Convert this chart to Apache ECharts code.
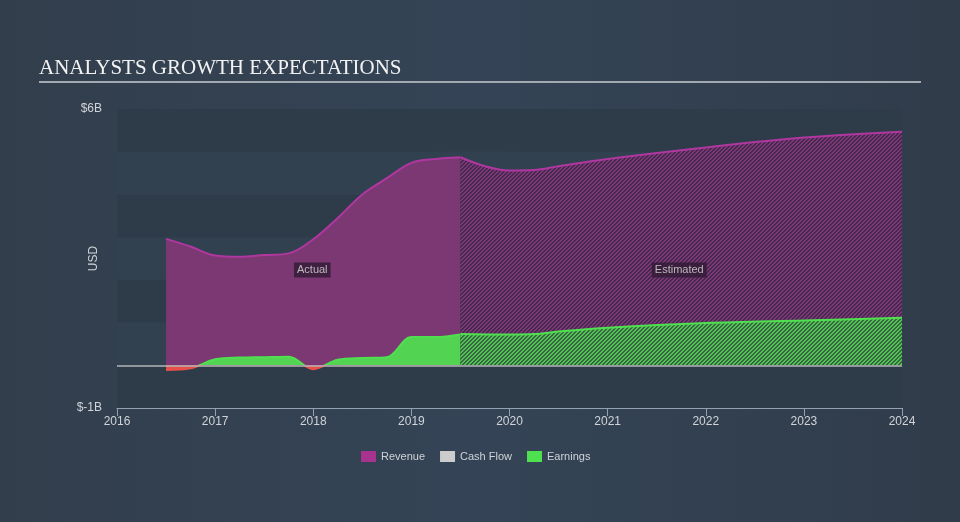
<!DOCTYPE html>
<html>
<head>
<meta charset="utf-8">
<script src="https://cdn.jsdelivr.net/npm/echarts@6/dist/echarts.min.js"></script>
<style>
html,body{margin:0;padding:0;width:960px;height:522px;overflow:hidden;background:#333f4e;}
#chart{width:960px;height:522px;}
</style>
</head>
<body>
<div id="chart"></div>
<script>
// ---- data ----
const yearTicks = [2016, 2017, 2018, 2019, 2020, 2021, 2022, 2023, 2024];
const revenueActualX = [2016.5, 2016.75, 2017.0, 2017.25, 2017.5, 2017.75, 2018.0, 2018.25, 2018.5, 2018.75, 2019.0, 2019.25, 2019.5];
const revenueActual  = [2.96, 2.78, 2.57, 2.54, 2.58, 2.62, 2.95, 3.45, 4.0, 4.38, 4.74, 4.83, 4.87];
const revenueEstX = [2019.5, 2019.75, 2020.0, 2020.25, 2020.5, 2021.0, 2022.0, 2023.0, 2024.0];
const revenueEst  = [4.87, 4.66, 4.56, 4.57, 4.66, 4.83, 5.1, 5.33, 5.47];
const earningsActualX = [2016.5, 2016.75, 2017.0, 2017.25, 2017.5, 2017.75, 2018.0, 2018.25, 2018.5, 2018.75, 2019.0, 2019.25, 2019.5];
const earningsActual  = [-0.11, -0.07, 0.14, 0.18, 0.19, 0.2, -0.09, 0.13, 0.17, 0.19, 0.66, 0.66, 0.72];
const earningsEstX = [2019.5, 2020.0, 2020.25, 2020.5, 2021.0, 2022.0, 2023.0, 2024.0];
const earningsEst  = [0.73, 0.72, 0.73, 0.79, 0.88, 0.99, 1.05, 1.11];
const regionLabels = ['Actual', 'Estimated'];
const regionLabelX = [2017.99, 2021.73];
const regionLabelY = [2.23, 2.23];
const legendNames = ['Revenue', 'Cash Flow', 'Earnings'];

function pairs(xs, ys) { return xs.map((x, i) => [x, ys[i]]); }

function hatch(c1, c2) {
  const s = 4;
  const cv = document.createElement('canvas');
  cv.width = 8; cv.height = 8;
  const ctx = cv.getContext('2d');
  for (let y = 0; y < 8; y++) {
    for (let x = 0; x < 8; x++) {
      ctx.fillStyle = ((x + y) % s) < 2 ? c1 : c2;
      ctx.fillRect(x, y, 1, 1);
    }
  }
  return { image: cv, repeat: 'repeat' };
}

const revColor = '#b0379f';
const revFill = '#7b3873';
const earnColor = '#4fe04f';
const earnFill = '#52d452';
const negColor = '#e8504a';

const chart = echarts.init(document.getElementById('chart'), null, { renderer: 'canvas' });

const option = {
  animation: false,
  backgroundColor: {
    type: 'linear', x: 0, y: 0, x2: 1, y2: 0,
    colorStops: [
      { offset: 0, color: '#323e4c' },
      { offset: 0.5, color: '#344456' },
      { offset: 1, color: '#303c4a' }
    ]
  },
  title: {
    text: 'ANALYSTS GROWTH EXPECTATIONS',
    left: 34, top: 53,
    textStyle: { fontFamily: 'Liberation Serif', fontSize: 21, fontWeight: 'normal', color: '#f2f2f2' }
  },
  graphic: [{
    type: 'line', shape: { x1: 39, y1: 82, x2: 921, y2: 82 },
    style: { stroke: '#a3a9b0', lineWidth: 2 }, silent: true
  }],
  legend: {
    left: 356, top: 446,
    icon: 'rect', itemWidth: 15, itemHeight: 11, itemGap: 15,
    textStyle: { color: '#cfd3d8', fontSize: 11, fontFamily: 'Liberation Sans' },
    data: [
      { name: legendNames[0], itemStyle: { color: '#a8338f' } },
      { name: legendNames[1], itemStyle: { color: '#cccccc' } },
      { name: legendNames[2], itemStyle: { color: '#4fe04f' } }
    ]
  },
  grid: { left: 117, right: 58, top: 109, bottom: 114 },
  xAxis: {
    type: 'value', min: 2016, max: 2024, interval: 1,
    axisLine: { show: true, onZero: false, lineStyle: { color: '#93a1b1', width: 1 } },
    axisTick: { show: true, length: 8, lineStyle: { color: '#93a1b1' } },
    axisLabel: { color: '#d0d4d8', fontSize: 12, margin: 8, fontFamily: 'Liberation Sans', formatter: v => String(v) },
    splitLine: { show: false }
  },
  yAxis: {
    type: 'value', min: -1, max: 6, interval: 1,
    name: 'USD', nameLocation: 'middle', nameGap: 17, nameRotate: 90, nameMoveOverlap: false,
    nameTextStyle: { color: '#d0d4d8', fontSize: 12, fontFamily: 'Liberation Sans' },
    axisLine: { show: false }, axisTick: { show: false },
    axisLabel: {
      color: '#d0d4d8', fontSize: 12, margin: 15, fontFamily: 'Liberation Sans',
      formatter: v => v === 6 ? '$6B' : (v === -1 ? '$-1B' : '')
    },
    splitLine: { show: false },
    splitArea: { show: true, areaStyle: { color: ['#2e3c4a', '#324150'] } }
  },
  series: [
    {
      name: 'Revenue', type: 'line', smooth: 0.35, showSymbol: false, symbol: 'none',
      data: pairs(revenueActualX, revenueActual),
      lineStyle: { color: revColor, width: 2 },
      itemStyle: { color: revColor },
      areaStyle: { color: revFill, opacity: 1 },
      z: 2,
      markLine: {
        silent: true, symbol: 'none', z: 10,
        label: { show: false },
        lineStyle: { color: '#b4b6b8', width: 1.5, type: 'solid' },
        data: [{ yAxis: 0 }]
      }
    },
    {
      name: 'Revenue', type: 'line', smooth: 0.35, showSymbol: false, symbol: 'none',
      data: pairs(revenueEstX, revenueEst),
      lineStyle: { color: revColor, width: 2 },
      itemStyle: { color: revColor },
      areaStyle: { color: hatch('#7e3779', '#45294d'), opacity: 1 },
      z: 2
    },
    {
      name: 'Cash Flow', type: 'line', data: [], itemStyle: { color: '#cccccc' }
    },
    {
      name: 'Earnings', type: 'line', smooth: 0.35, showSymbol: false, symbol: 'none',
      data: pairs(earningsActualX, earningsActual),
      lineStyle: { color: earnColor, width: 2 },
      itemStyle: { color: earnColor },
      areaStyle: { color: earnFill, opacity: 1 },
      z: 3
    },
    {
      name: 'Earnings', type: 'line', smooth: 0.35, showSymbol: false, symbol: 'none',
      data: pairs(earningsEstX, earningsEst),
      lineStyle: { color: earnColor, width: 2 },
      itemStyle: { color: earnColor },
      areaStyle: { color: hatch('#4fc44f', '#3a6446'), opacity: 1 },
      z: 3
    },
    {
      name: 'labels', type: 'scatter', symbolSize: 1, itemStyle: { color: 'rgba(0,0,0,0)' },
      silent: true, z: 20,
      data: regionLabels.map((t, i) => [regionLabelX[i], regionLabelY[i], t]),
      label: {
        show: true, position: 'inside', formatter: p => p.value[2],
        color: '#dcdcdc', fontSize: 11, fontFamily: 'Liberation Sans',
        backgroundColor: '#311a34', padding: [2, 3], lineHeight: 11
      }
    }
  ]
};
chart.setOption(option);

// split earnings colour at the zero line (red below, green above)
const zeroY = chart.convertToPixel({ gridIndex: 0 }, [2016, 0])[1];
function splitGrad(top, bottom) {
  return new echarts.graphic.LinearGradient(0, zeroY - 0.5, 0, zeroY + 0.5, [
    { offset: 0, color: top }, { offset: 0.5, color: top },
    { offset: 0.5, color: bottom }, { offset: 1, color: bottom }
  ], true);
}
chart.setOption({
  series: [{}, {}, {}, {
    lineStyle: { color: splitGrad(earnColor, negColor) },
    areaStyle: { color: splitGrad(earnFill, negColor), opacity: 1 }
  }]
});
</script>
</body>
</html>
